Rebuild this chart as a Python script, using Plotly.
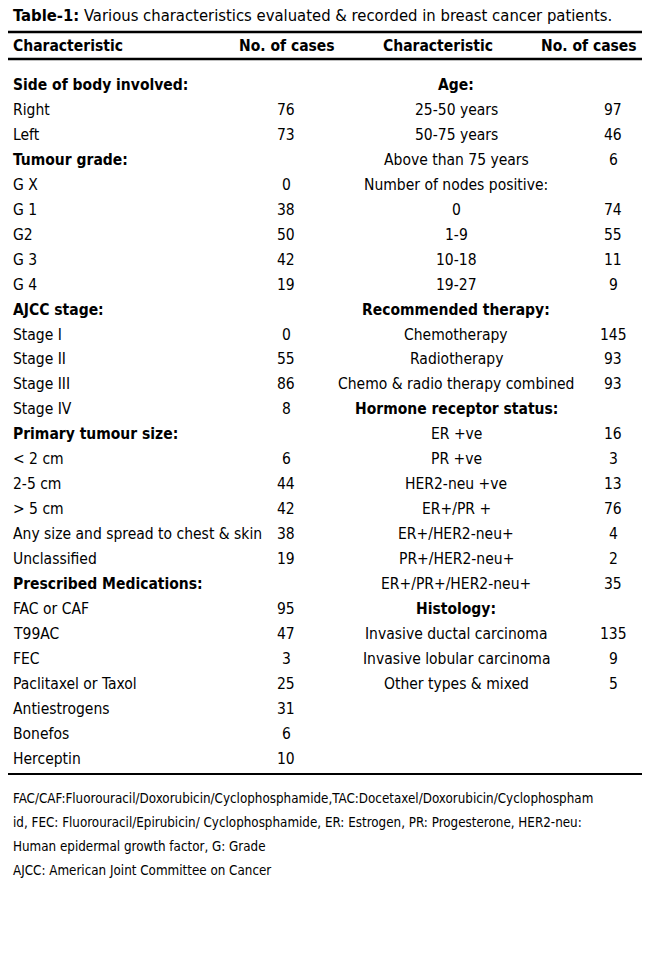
import plotly.graph_objects as go

FONT = "DejaVu Sans Condensed, Liberation Sans Narrow, sans-serif"

title_bold = "Table-1:"
title_rest = " Various characteristics evaluated & recorded in breast cancer patients."
headers = ["Characteristic", "No. of cases", "Characteristic", "No. of cases"]

left_labels = ["Side of body involved:", "Right", "Left", "Tumour grade:", "G X", "G 1", "G2", "G 3", "G 4",
               "AJCC stage:", "Stage I", "Stage II", "Stage III", "Stage IV", "Primary tumour size:",
               "< 2 cm", "2-5 cm", "> 5 cm", "Any size and spread to chest & skin", "Unclassified",
               "Prescribed Medications:", "FAC or CAF", "T99AC", "FEC", "Paclitaxel or Taxol",
               "Antiestrogens", "Bonefos", "Herceptin"]
left_values = ["", "76", "73", "", "0", "38", "50", "42", "19",
               "", "0", "55", "86", "8", "",
               "6", "44", "42", "38", "19",
               "", "95", "47", "3", "25", "31", "6", "10"]
left_section = [0, 3, 9, 14, 20]

right_labels = ["Age:", "25-50 years", "50-75 years", "Above than 75 years", "Number of nodes positive:",
                "0", "1-9", "10-18", "19-27", "Recommended therapy:", "Chemotherapy", "Radiotherapy",
                "Chemo & radio therapy combined", "Hormone receptor status:", "ER +ve", "PR +ve",
                "HER2-neu +ve", "ER+/PR +", "ER+/HER2-neu+", "PR+/HER2-neu+", "ER+/PR+/HER2-neu+",
                "Histology:", "Invasive ductal carcinoma", "Invasive lobular carcinoma", "Other types & mixed"]
right_values = ["", "97", "46", "6", "", "74", "55", "11", "9", "", "145", "93", "93", "",
                "16", "3", "13", "76", "4", "2", "35", "", "135", "9", "5"]
right_section = [0, 9, 13, 21]

footnotes = ["FAC/CAF:Fluorouracil/Doxorubicin/Cyclophosphamide,TAC:Docetaxel/Doxorubicin/Cyclophospham",
             "id, FEC: Fluorouracil/Epirubicin/ Cyclophosphamide, ER: Estrogen, PR: Progesterone, HER2-neu:",
             "Human epidermal growth factor, G: Grade",
             "AJCC: American Joint Committee on Cancer"]

OFF = 7  # page offset compensation
y0, dy = 84 - OFF, 24.95
ann = []


def txt(x, y, s, anchor="left", bold=False, size=15.5):
    ann.append(dict(x=x - OFF, y=y, text=f"<b>{s}</b>" if bold else s, xanchor=anchor, yanchor="middle",
                    showarrow=False, font=dict(family=FONT, size=size, color="black")))


txt(10, 14 - OFF, f"<b>{title_bold}</b>{title_rest}", size=16.5)
txt(10, 45 - OFF, headers[0], bold=True)
txt(286, 45 - OFF, headers[1], "center", True)
txt(437, 45 - OFF, headers[2], "center", True)
txt(588, 45 - OFF, headers[3], "center", True)

for i, (lab, val) in enumerate(zip(left_labels, left_values)):
    y = y0 + i * dy
    txt(10, y, lab, bold=i in left_section)
    if val:
        txt(285, y, val, "center")
for i, (lab, val) in enumerate(zip(right_labels, right_values)):
    y = y0 + i * dy
    txt(455, y, lab, "center", bold=i in right_section)
    if val:
        txt(612, y, val, "center")

for i, s in enumerate(footnotes):
    txt(10, 797 - OFF + i * 24.3, s, size=13.3)

shapes = [dict(type="line", x0=4 - OFF, x1=644 - OFF, y0=yy - OFF, y1=yy - OFF,
               line=dict(color="black", width=w))
          for yy, w in [(31, 2.5), (58, 2.5), (773, 2)]]

fig = go.Figure()
fig.update_layout(width=650, height=976, margin=dict(l=0, r=0, t=0, b=0),
                  plot_bgcolor="white", paper_bgcolor="white",
                  xaxis=dict(range=[0, 650], visible=False, fixedrange=True),
                  yaxis=dict(range=[976, 0], visible=False, fixedrange=True),
                  annotations=ann, shapes=shapes, showlegend=False)
fig.write_html("out.html")
